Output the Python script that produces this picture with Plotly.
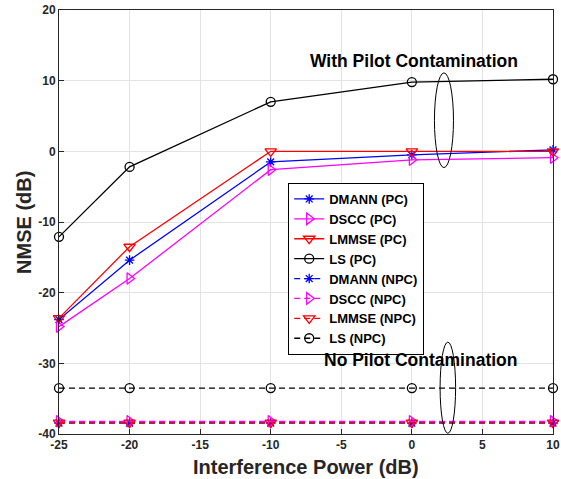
import plotly.graph_objects as go

x_vals = [-25, -20, -10, 0, 10]

dmann_pc = [-23.8, -15.4, -1.5, -0.5, 0.2]
dscc_pc = [-24.8, -18.0, -2.6, -1.2, -0.9]
lmmse_pc = [-23.6, -13.5, 0.0, 0.0, 0.0]
ls_pc = [-12.1, -2.2, 7.0, 9.8, 10.2]

dmann_npc = [-38.45, -38.45, -38.45, -38.45, -38.45]
dscc_npc = [-38.2, -38.2, -38.2, -38.2, -38.2]
lmmse_npc = [-38.4, -38.4, -38.4, -38.4, -38.4]
ls_npc = [-33.5, -33.5, -33.5, -33.5, -33.5]

x_ticks = [-25, -20, -15, -10, -5, 0, 5, 10]
y_ticks = [-40, -30, -20, -10, 0, 10, 20]

series = [
    ("DMANN (PC)", dmann_pc, "blue", "asterisk-open", "solid", 8),
    ("DSCC (PC)", dscc_pc, "magenta", "triangle-right-open", "solid", 10),
    ("LMMSE (PC)", lmmse_pc, "red", "triangle-down-open", "solid", 10),
    ("LS (PC)", ls_pc, "black", "circle-open", "solid", 9),
    ("DMANN (NPC)", dmann_npc, "blue", "asterisk-open", "6px,4px", 8),
    ("DSCC (NPC)", dscc_npc, "magenta", "triangle-right-open", "6px,4px", 10),
    ("LMMSE (NPC)", lmmse_npc, "red", "triangle-down-open", "6px,4px", 10),
    ("LS (NPC)", ls_npc, "black", "circle-open", "6px,4px", 9),
]

fig = go.Figure()
for name, ys, color, sym, dash, msize in series:
    fig.add_trace(go.Scatter(
        x=x_vals, y=ys, name=f"<b>{name}</b>", mode="lines+markers",
        line=dict(color=color, width=1.3, dash=dash),
        marker=dict(symbol=sym, size=msize, color=color, line=dict(color=color, width=1.3)),
        cliponaxis=False,
    ))

font_family = "Liberation Sans, Arial, sans-serif"

fig.update_layout(
    width=561, height=479,
    margin=dict(l=59, r=8, t=10, b=45, autoexpand=False),
    paper_bgcolor="white", plot_bgcolor="white",
    font=dict(family=font_family, color="#262626"),
    showlegend=True,
    legend=dict(
        x=0.464, y=0.592, xanchor="left", yanchor="top",
        bordercolor="black", borderwidth=1, bgcolor="white",
        font=dict(size=13, color="black", family=font_family),
        itemwidth=30, tracegroupgap=0,
    ),
    xaxis=dict(
        range=[-25, 10], tickvals=x_ticks, ticktext=[f"<b>{v}</b>" for v in x_ticks],
        showgrid=True, gridcolor="#e3e3e3", zeroline=False, automargin=False,
        showline=True, linecolor="#262626", linewidth=1, mirror=True,
        ticks="inside", ticklen=5, tickcolor="#262626",
        tickfont=dict(size=12, color="#262626"),
    ),
    yaxis=dict(
        range=[-40, 20], tickvals=y_ticks, ticktext=[f"<b>{v}</b>" for v in y_ticks],
        showgrid=True, gridcolor="#e3e3e3", zeroline=False, automargin=False,
        showline=True, linecolor="#262626", linewidth=1, mirror=True,
        ticks="inside", ticklen=5, tickcolor="#262626",
        tickfont=dict(size=12, color="#262626"),
    ),
    annotations=[
        dict(x=0.5, y=-0.078, xref="paper", yref="paper", text="<b>Interference Power (dB)</b>",
             showarrow=False, xanchor="center", yanchor="middle",
             font=dict(size=20, color="#262626")),
        dict(x=-0.071, y=0.5, xref="paper", yref="paper", text="<b>NMSE (dB)</b>",
             showarrow=False, xanchor="center", yanchor="middle", textangle=-90,
             font=dict(size=20, color="#262626")),
        dict(x=0.15, y=12.8, xref="x", yref="y", text="<b>With Pilot Contamination</b>",
             showarrow=False, font=dict(size=17.5, color="black")),
        dict(x=0.6, y=-29.5, xref="x", yref="y", text="<b>No Pilot Contamination</b>",
             showarrow=False, font=dict(size=17.5, color="black")),
    ],
    shapes=[
        dict(type="circle", xref="x", yref="y", x0=1.6, x1=2.95, y0=-2.3, y1=11.1,
             line=dict(color="black", width=1)),
        dict(type="circle", xref="x", yref="y", x0=2.0, x1=3.1, y0=-39.9, y1=-27.0,
             line=dict(color="black", width=1)),
    ],
)

fig.write_html("out.html", config={"displayModeBar": False},
               post_script="document.body.style.margin='0px';")
